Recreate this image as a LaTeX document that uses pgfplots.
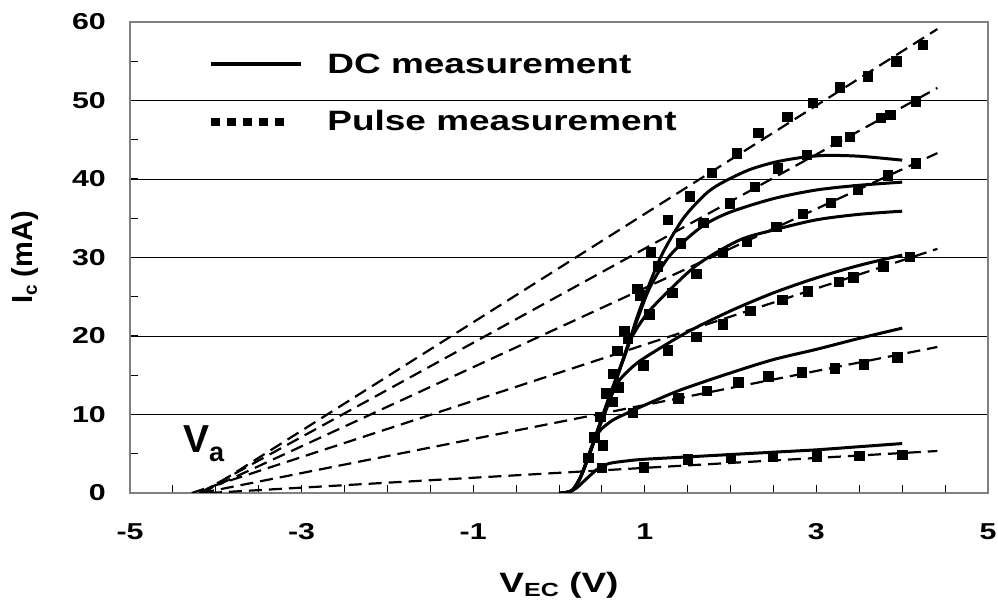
\documentclass[border=0pt]{standalone}
\usepackage{fontspec}
\setmainfont{Liberation Sans}[FakeStretch=1.32]
\newfontfamily\plainfont{Liberation Sans}
\usepackage{pgfplots}
\pgfplotsset{compat=1.18}
\begin{document}
\begin{tikzpicture}
\useasboundingbox (-130pt,-108pt) rectangle (868pt,493pt);
\begin{axis}[
  scale only axis, width=858pt, height=471pt,
  xmin=-5, xmax=5, ymin=0, ymax=60,
  xtick={-5,-3,-1,1,3,5}, xticklabels={-5,-3,-1,1,3,5},
  minor xtick={-4.5,-4,...,4.5},
  ytick={0,10,...,60}, yticklabels={0,10,20,30,40,50,60},
  minor ytick={5,15,...,55},
  tick pos=left, tick align=inside,
  major tick length=8pt, minor tick length=8pt,
  every tick/.style={black, line width=1pt},
  every minor tick/.style={black, line width=1pt},
  ymajorgrids, major grid style={black, line width=0.9pt},
  axis line style={draw=gray, line width=2.5pt},
  tick label style={font=\fontsize{23}{23}\selectfont\bfseries, inner sep=0pt},
  xticklabel style={yshift=-30pt},
  yticklabel style={xshift=-24pt},
  every axis x label/.style={at={(axis description cs:0.5,-0.1677)}, anchor=north, inner sep=0pt,
    font=\fontsize{28}{28}\selectfont\bfseries},
  every axis y label/.style={at={(axis description cs:-0.1131,0.5)}, rotate=90, anchor=base, inner sep=0pt,
    font=\plainfont\bfseries\fontsize{29}{29}\selectfont},
  xlabel={V\raisebox{-4pt}{\fontsize{19}{19}\selectfont EC} (V)},
  ylabel={I\raisebox{-4pt}{\fontsize{19}{19}\selectfont c} (mA)},
  legend style={at={(axis description cs:0.0897,0.932)}, anchor=north west,
    draw=none, fill=none, inner sep=0pt, row sep=35pt,
    font=\fontsize{28}{28}\selectfont\bfseries,
    nodes={inner sep=0pt, anchor=base west}},
  legend cell align=left,
]
\addlegendimage{legend image code/.code={\path[draw=none,fill=none] (0pt,0pt) (116pt,1pt); \draw[solid, line width=4.5pt] (0pt,10pt) -- (90pt,10pt);}}
\addlegendentry{DC measurement}
\addlegendimage{legend image code/.code={\path[draw=none,fill=none] (0pt,0pt) (116pt,1pt); \draw[line width=8.5pt, dash pattern=on 9pt off 7pt] (0pt,8.5pt) -- (73pt,8.5pt);}}
\addlegendentry{Pulse measurement}

% DC measurement (solid)
\addplot[forget plot, black, line width=3pt, smooth, tension=0.5] coordinates {
(0.02,0) (0.15,0.3) (0.25,2.0) (0.35,4.8) (0.45,8.0) (0.55,11.2) (0.65,14.2) (0.79,18.3) (0.91,22.4) (1.06,26.8) (1.21,30.6) (1.45,35.0) (1.7,38.0) (1.88,39.4) (2.2,41.1) (2.5,42.1) (2.8,42.7) (3.1,43.0) (3.5,42.9) (4.0,42.4)};
\addplot[forget plot, black, line width=3pt, smooth, tension=0.5] coordinates {
(0.02,0) (0.15,0.3) (0.25,2.0) (0.35,4.8) (0.45,8.0) (0.55,11.0) (0.65,14.0) (0.79,18.2) (0.91,22.0) (1.06,26.2) (1.26,29.8) (1.45,32.0) (1.7,34.2) (2.0,35.8) (2.5,37.5) (3.0,38.6) (3.5,39.2) (4.0,39.6)};
\addplot[forget plot, black, line width=3pt, smooth, tension=0.5] coordinates {
(0.02,0) (0.15,0.3) (0.25,2.0) (0.35,4.8) (0.45,7.9) (0.55,10.8) (0.65,13.8) (0.74,16.8) (0.83,19.5) (1.03,22.9) (1.33,26.3) (1.64,29.3) (2.1,32.2) (2.5,33.5) (3.0,34.8) (3.5,35.5) (4.0,35.9)};
\addplot[forget plot, black, line width=3pt, smooth, tension=0.5] coordinates {
(0.02,0) (0.15,0.3) (0.25,2.0) (0.35,4.8) (0.45,7.8) (0.55,10.6) (0.62,12.6) (0.7,14.3) (0.8,15.5) (0.94,16.8) (1.2,18.6) (1.53,20.7) (2.0,23.2) (2.5,25.5) (3.0,27.4) (3.5,29.0) (4.0,30.3)};
\addplot[forget plot, black, line width=3pt, smooth, tension=0.5] coordinates {
(0.02,0) (0.15,0.3) (0.25,2.0) (0.35,5.0) (0.42,7.0) (0.5,8.2) (0.63,9.3) (0.8,10.2) (1.0,11.2) (1.41,13.1) (2.0,15.3) (2.5,17.0) (3.0,18.3) (3.5,19.7) (4.0,21.0)};
\addplot[forget plot, black, line width=3pt, smooth, tension=0.5] coordinates {
(0.0,0) (0.1,0.1) (0.2,0.6) (0.3,1.6) (0.4,2.6) (0.48,3.3) (0.6,3.8) (0.8,4.1) (1.0,4.3) (1.5,4.6) (2.0,4.9) (2.5,5.2) (3.0,5.5) (3.5,5.9) (4.0,6.3)};

% Pulse measurement (squares)
\pgfplotsset{pulse/.style={forget plot, only marks, mark=square*, mark size=4.7pt, black}}
\addplot[pulse] coordinates {
(0.34,4.5) (0.41,7.1) (0.48,9.7) (0.55,12.7) (0.63,15.2) (0.68,18.1) (0.76,20.6) (0.91,26.0) (1.07,30.7) (1.27,34.8) (1.52,37.8) (1.78,40.8) (2.07,43.3) (2.32,45.9) (2.66,47.9) (2.96,49.7) (3.27,51.7) (3.60,53.1) (3.93,55.0) (4.24,57.1)};
\addplot[pulse] coordinates {
(0.51,6.1) (0.62,11.6) (0.69,13.5) (0.80,19.7) (0.94,25.2) (1.15,28.9) (1.42,31.8) (1.68,34.4) (1.99,36.9) (2.28,39.0) (2.55,41.4) (2.89,43.1) (3.23,44.8) (3.39,45.4) (3.75,47.8) (3.86,48.2) (4.16,49.9)};
\addplot[pulse] coordinates {
(1.05,22.8) (1.32,25.5) (1.60,27.9) (1.91,30.6) (2.19,32.0) (2.53,33.9) (2.84,35.6) (3.17,37.0) (3.48,38.7) (3.83,40.5) (4.16,42.0)};
\addplot[pulse] coordinates {
(0.98,16.3) (1.27,18.2) (1.60,19.9) (1.91,21.5) (2.23,23.2) (2.60,24.6) (2.90,25.7) (3.26,26.9) (3.43,27.5) (3.78,28.9) (4.09,30.1)};
\addplot[pulse] coordinates {
(0.86,10.2) (1.39,12.1) (1.72,13.0) (2.09,14.1) (2.44,14.9) (2.83,15.4) (3.21,15.9) (3.55,16.4) (3.94,17.3)};
\addplot[pulse] coordinates {
(0.50,3.2) (0.99,3.3) (1.50,4.3) (2.00,4.5) (2.49,4.6) (3.00,4.7) (3.50,4.75) (4.00,4.85)};

% Extrapolated dashed lines
\pgfplotsset{extra/.style={forget plot, black, line width=2.2pt, dash pattern=on 13pt off 7pt}}
\addplot[extra] coordinates {(-4.15,0) (4.41,59.1)};
\addplot[extra] coordinates {(-4.19,0) (4.41,51.6)};
\addplot[extra] coordinates {(-4.18,0) (4.41,43.3)};
\addplot[extra] coordinates {(-4.28,0) (4.41,31.1)};
\addplot[extra] coordinates {(-4.17,0) (4.41,18.6)};
\addplot[extra] coordinates {(-4.08,0) (4.41,5.35)};

\node[anchor=base west, inner sep=0pt, font=\plainfont\bfseries\fontsize{39}{39}\selectfont] at (axis cs:-4.382,5.10) {V\raisebox{-9pt}{\fontsize{27}{27}\selectfont a}};
\end{axis}
\end{tikzpicture}
\end{document}
